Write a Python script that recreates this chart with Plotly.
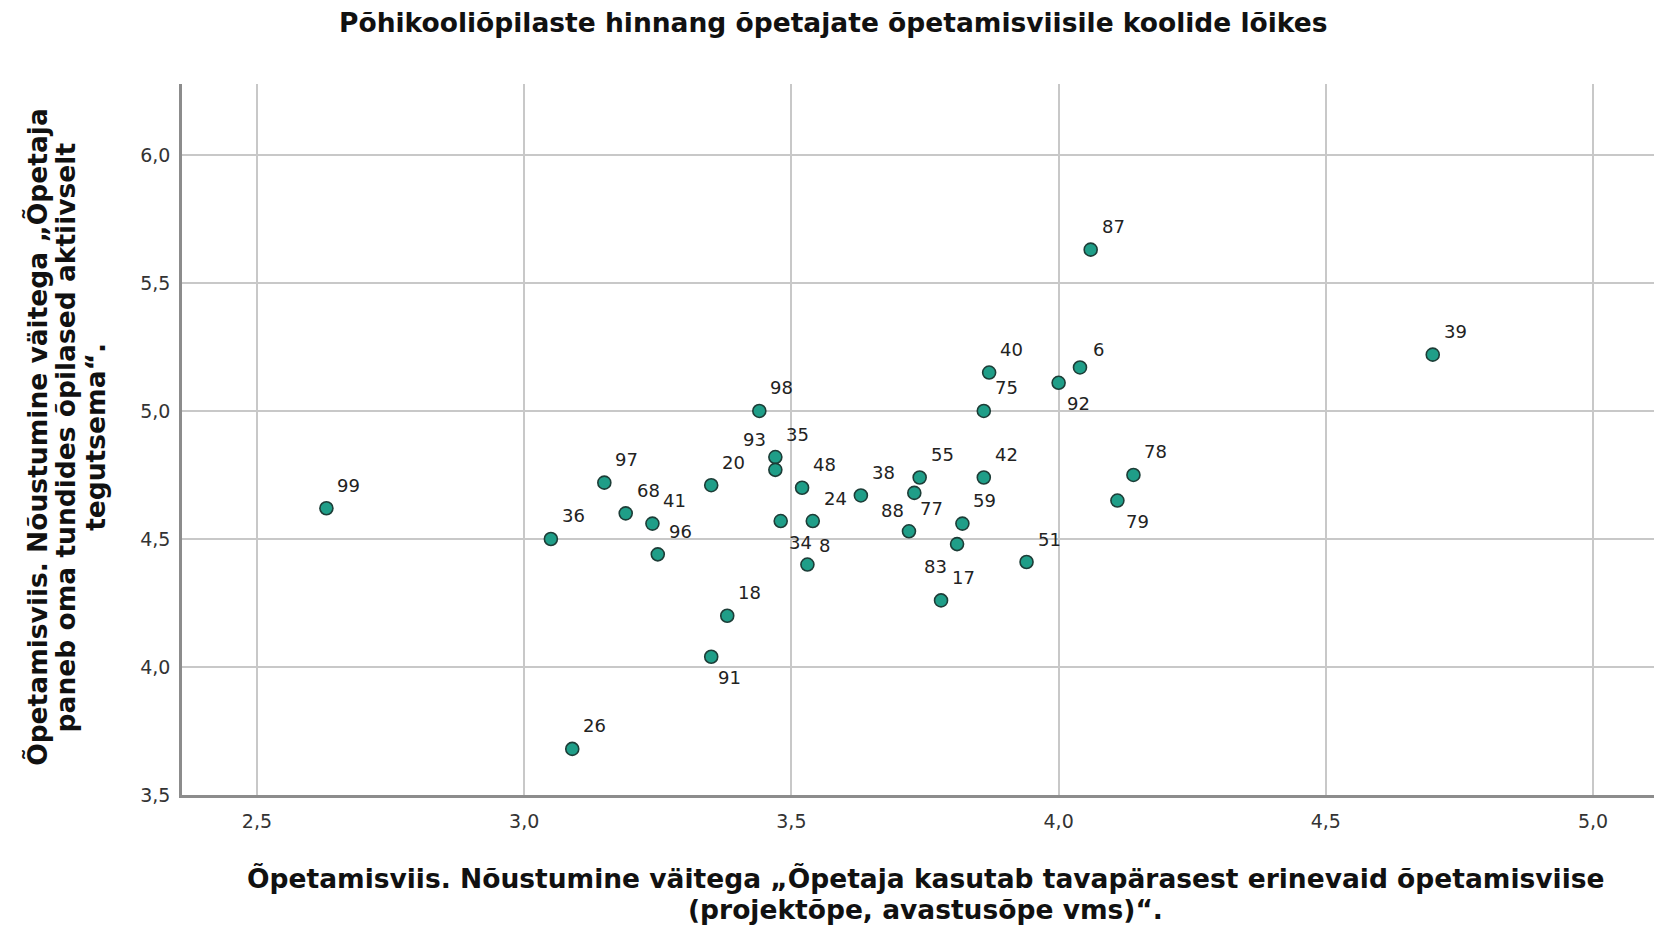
import plotly.graph_objects as go

# ---- data ----
school_ids = ["99", "36", "97", "68", "41", "96", "20", "18", "91", "26",
              "98", "35", "93", "48", "34", "8", "24", "38", "55", "88",
              "77", "59", "83", "17", "42", "51", "40", "75", "92", "6",
              "78", "79", "87", "39"]
x_methods = [2.63, 3.05, 3.15, 3.19, 3.24, 3.25, 3.35, 3.38, 3.35, 3.09,
             3.44, 3.47, 3.47, 3.52, 3.48, 3.53, 3.54, 3.63, 3.74, 3.73,
             3.72, 3.82, 3.81, 3.78, 3.86, 3.94, 3.87, 3.86, 4.00, 4.04,
             4.14, 4.11, 4.06, 4.70]
y_active = [4.62, 4.50, 4.72, 4.60, 4.56, 4.44, 4.71, 4.20, 4.04, 3.68,
            5.00, 4.82, 4.77, 4.70, 4.57, 4.40, 4.57, 4.67, 4.74, 4.68,
            4.53, 4.56, 4.48, 4.26, 4.74, 4.41, 5.15, 5.00, 5.11, 5.17,
            4.75, 4.65, 5.63, 5.22]
x_ticks = [2.5, 3.0, 3.5, 4.0, 4.5, 5.0]
y_ticks = [3.5, 4.0, 4.5, 5.0, 5.5, 6.0]

title_text = "Põhikooliõpilaste hinnang õpetajate õpetamisviisile koolide lõikes"
x_title_lines = ["Õpetamisviis. Nõustumine väitega „Õpetaja kasutab tavapärasest erinevaid õpetamisviise",
                 "(projektõpe, avastusõpe vms)“."]
y_title_lines = ["Õpetamisviis. Nõustumine väitega „Õpetaja",
                 "paneb oma tundides õpilased aktiivselt",
                 "tegutsema“."]

# ---- styles / placement ----
default_off = (9, -23, "left")   # dx right, dy down (px), anchor
label_off = {
    "93": (-7, -30, "right"),
    "34": (6, 21, "left"),
    "8": (10, -19, "left"),
    "88": (-8, 18, "right"),
    "83": (-8, 22, "right"),
    "92": (6, 21, "left"),
    "79": (7, 21, "left"),
    "91": (5, 21, "left"),
    "6": (11, -18, "left"),
}
title_font = dict(family="DejaVu Sans", size=26.5, color="#111111", weight="bold")
title_pos = (0.4428, 1.0858)
x_title_pos = [(0.5054, -0.1176), (0.5052, -0.1606)]
y_title_pos = [(-0.0986, 0.5035), (-0.0792, 0.5035), (-0.0592, 0.5035)]

fig = go.Figure()
fig.add_trace(go.Scatter(
    x=x_methods, y=y_active, mode="markers",
    marker=dict(size=13, color="#1f9e88", line=dict(color="#1d3d37", width=1.6)),
    hoverinfo="skip", showlegend=False,
))

annotations = []
for sid, xv, yv in zip(school_ids, x_methods, y_active):
    dx, dy, anc = label_off.get(sid, default_off)
    annotations.append(dict(
        x=xv, y=yv, xref="x", yref="y", text=sid, showarrow=False,
        xanchor=anc, yanchor="middle", xshift=dx, yshift=-dy,
        font=dict(family="DejaVu Sans", size=18, color="#222222"),
    ))

annotations.append(dict(
    x=title_pos[0], y=title_pos[1], xref="paper", yref="paper", text=title_text,
    showarrow=False, xanchor="center", yanchor="middle", font=title_font,
))
for line, (px, py) in zip(x_title_lines, x_title_pos):
    annotations.append(dict(
        x=px, y=py, xref="paper", yref="paper", text=line, showarrow=False,
        xanchor="center", yanchor="middle", font=title_font,
    ))
for line, (px, py) in zip(y_title_lines, y_title_pos):
    annotations.append(dict(
        x=px, y=py, xref="paper", yref="paper", text=line, showarrow=False,
        xanchor="center", yanchor="middle", textangle=-90, font=title_font,
    ))

tick_font = dict(family="DejaVu Sans", size=19, color="#333333")
fig.update_layout(
    width=1654, height=930,
    margin=dict(l=182, r=0, t=84, b=135, pad=0),
    paper_bgcolor="white", plot_bgcolor="white",
    separators=", ",
    annotations=annotations,
    xaxis=dict(
        range=[2.3598, 5.114], tickvals=x_ticks, tickformat=".1f",
        showgrid=True, gridcolor="#c8c8c8", gridwidth=1.5,
        showline=True, linecolor="#8c8c8c", linewidth=2.5,
        zeroline=False, ticks="outside", ticklen=7, tickcolor="rgba(0,0,0,0)",
        tickfont=tick_font,
    ),
    yaxis=dict(
        range=[3.5, 6.277], tickvals=y_ticks, tickformat=".1f",
        showgrid=True, gridcolor="#c8c8c8", gridwidth=1.5,
        showline=True, linecolor="#8c8c8c", linewidth=2.5,
        zeroline=False, ticks="outside", ticklen=5, tickcolor="rgba(0,0,0,0)",
        tickfont=tick_font,
    ),
)

fig.write_html(
    "out.html",
    config={"displayModeBar": False},
    post_script="document.body.style.margin='0';document.body.style.overflow='hidden';",
)
